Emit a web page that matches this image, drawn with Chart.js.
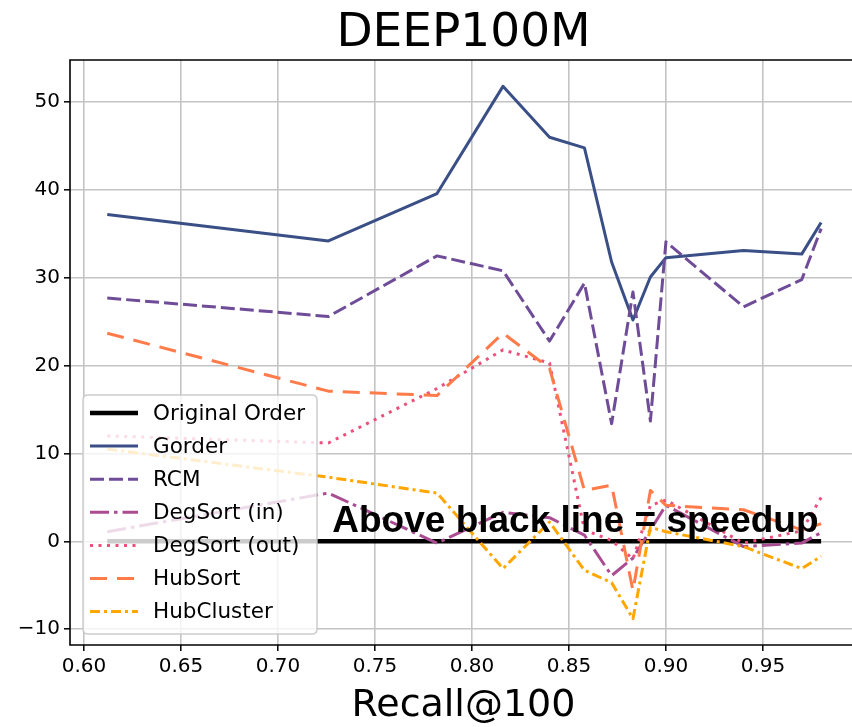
<!DOCTYPE html>
<html>
<head>
<meta charset="utf-8">
<script src="https://cdn.jsdelivr.net/npm/chart.js@4.4.1/dist/chart.umd.min.js"></script>
<style>
  html, body { margin: 0; padding: 0; background: #fff; overflow: hidden; }
  #wrap { position: relative; width: 880px; height: 727px; }
</style>
</head>
<body>
<div id="wrap"><canvas id="chart"></canvas></div>
<script>
// Recall@100 operating points shared by every reordering method
const recall = [0.612, 0.726, 0.782, 0.816, 0.840, 0.858, 0.872, 0.883, 0.892, 0.900, 0.940, 0.970, 0.980];

// Speedup (%) over the original vertex order
const originalOrder = [0, 0, 0, 0, 0, 0, 0, 0, 0, 0, 0, 0, 0];
const gorder     = [37.2, 34.2, 39.6, 51.8, 46.0, 44.8, 31.8, 25.2, 30.1, 32.3, 33.1, 32.7, 36.3];
const rcm        = [27.7, 25.6, 32.5, 30.8, 22.8, 29.4, 13.4, 28.4, 13.7, 34.1, 26.7, 29.8, 35.6];
const degSortIn  = [1.1, 5.5, -0.2, 3.3, 2.7, 0.7, -3.9, -1.9, 1.3, 4.1, -0.6, -0.2, 1.0];
const degSortOut = [12.0, 11.2, 17.4, 21.8, 20.3, 1.3, 0.1, -2.0, 4.1, 4.7, -0.2, 1.2, 5.0];
const hubSort    = [23.7, 17.1, 16.6, 23.7, 19.7, 5.8, 6.4, -5.6, 5.8, 4.1, 3.6, 1.3, 2.0];
const hubCluster = [10.5, 7.3, 5.5, -3.1, 2.2, -3.3, -4.7, -8.8, 1.6, 1.1, -0.6, -3.1, -1.7];

const seriesLabels = ['Original Order', 'Gorder', 'RCM', 'DegSort (in)', 'DegSort (out)', 'HubSort', 'HubCluster'];
const xTicks = [0.60, 0.65, 0.70, 0.75, 0.80, 0.85, 0.90, 0.95];
const yTicks = [-10, 0, 10, 20, 30, 40, 50];

const TICK_FONT = 'DejaVu Sans';

function points(ys) {
  return recall.map((r, i) => ({ x: r, y: ys[i] }));
}

const styles = [
  { color: '#000000', width: 4.5, dash: [] },
  { color: '#3a4f86', width: 3, dash: [] },
  { color: '#6f4c97', width: 3, dash: [14, 5] },
  { color: '#aa4c92', width: 3, dash: [19, 5, 3.5, 5] },
  { color: '#ee4f7c', width: 3, dash: [3, 5.5] },
  { color: '#ff7b4a', width: 3, dash: [17, 10] },
  { color: '#ffa600', width: 3, dash: [10, 4, 3, 4] }
];
const seriesValues = [originalOrder, gorder, rcm, degSortIn, degSortOut, hubSort, hubCluster];

const datasets = seriesValues.map((vals, i) => ({
  label: seriesLabels[i],
  data: points(vals),
  borderColor: styles[i].color,
  backgroundColor: styles[i].color,
  borderWidth: styles[i].width,
  borderDash: styles[i].dash,
  borderCapStyle: 'butt',
  borderJoinStyle: 'round',
  pointRadius: 0,
  pointHoverRadius: 0,
  tension: 0,
  fill: false,
  order: seriesValues.length - i   // later series are painted on top
}));

// Axes frame (left, top, bottom spines) plus the in-plot note
const framePlugin = {
  id: 'frameAndNote',
  afterDatasetsDraw(chart, args, opts) {
    const { ctx, chartArea: a } = chart;
    ctx.save();
    ctx.strokeStyle = '#000';
    ctx.lineWidth = 1.6;
    ctx.setLineDash([]);
    ctx.beginPath();
    ctx.moveTo(a.right, a.top);
    ctx.lineTo(a.left, a.top);
    ctx.lineTo(a.left, a.bottom);
    ctx.lineTo(a.right, a.bottom);
    ctx.stroke();

    const xs = chart.scales.x, ys = chart.scales.y;
    ctx.fillStyle = '#000';
    ctx.font = 'bold 37px "Liberation Sans", Arial, sans-serif';
    ctx.textAlign = 'left';
    ctx.textBaseline = 'alphabetic';
    ctx.fillText(opts.text, xs.getPixelForValue(opts.x), ys.getPixelForValue(opts.y));
    ctx.restore();
  }
};

// Legend drawn inside the lower-left corner of the plot
const insideLegend = {
  id: 'insideLegend',
  afterDatasetsDraw(chart, args, o) {
    const ctx = chart.ctx;
    ctx.save();
    const r = 5;
    const x0 = o.left, y0 = o.top, w = o.width, h = o.height;
    ctx.beginPath();
    ctx.moveTo(x0 + r, y0);
    ctx.lineTo(x0 + w - r, y0);
    ctx.quadraticCurveTo(x0 + w, y0, x0 + w, y0 + r);
    ctx.lineTo(x0 + w, y0 + h - r);
    ctx.quadraticCurveTo(x0 + w, y0 + h, x0 + w - r, y0 + h);
    ctx.lineTo(x0 + r, y0 + h);
    ctx.quadraticCurveTo(x0, y0 + h, x0, y0 + h - r);
    ctx.lineTo(x0, y0 + r);
    ctx.quadraticCurveTo(x0, y0, x0 + r, y0);
    ctx.closePath();
    ctx.fillStyle = 'rgba(255,255,255,0.8)';
    ctx.fill();
    ctx.strokeStyle = 'rgba(200,200,200,0.9)';
    ctx.lineWidth = 1.5;
    ctx.stroke();

    chart.data.datasets.forEach((ds, i) => {
      const y = y0 + o.firstRow + i * o.rowGap;
      ctx.beginPath();
      ctx.setLineDash(ds.borderDash || []);
      ctx.lineCap = 'butt';
      ctx.lineWidth = ds.borderWidth;
      ctx.strokeStyle = ds.borderColor;
      ctx.moveTo(x0 + o.sampleStart, y);
      ctx.lineTo(x0 + o.sampleStart + o.sampleLen, y);
      ctx.stroke();
      ctx.setLineDash([]);
      ctx.fillStyle = '#000';
      ctx.font = o.fontSize + 'px "' + TICK_FONT + '"';
      ctx.textAlign = 'left';
      ctx.textBaseline = 'middle';
      ctx.fillText(ds.label, x0 + o.textStart, y + 1);
    });
    ctx.restore();
  }
};

const minus = v => (v < 0 ? '\u2212' + Math.abs(v) : String(v));

new Chart(document.getElementById('chart'), {
  type: 'line',
  data: { datasets },
  plugins: [framePlugin, insideLegend],
  options: {
    responsive: true,
    maintainAspectRatio: false,
    animation: false,
    events: [],
    layout: { padding: { left: 0, right: 23, top: 0, bottom: 0 } },
    plugins: {
      legend: { display: false },
      tooltip: { enabled: false },
      title: {
        display: true,
        text: 'DEEP100M',
        fullSize: false,
        color: '#000',
        font: { family: TICK_FONT, size: 47, weight: 'normal', lineHeight: 1 },
        padding: { top: 10, bottom: 3 }
      },
      frameAndNote: { text: 'Above black line = speedup', x: 0.728, y: 1.1 },
      insideLegend: {
        left: 83, top: 395, width: 234, height: 239,
        firstRow: 18, rowGap: 33.1,
        sampleStart: 7, sampleLen: 48, textStart: 70, fontSize: 21.5
      }
    },
    scales: {
      x: {
        type: 'linear',
        min: 0.5928,
        max: 0.9985,
        afterFit(scale) { scale.height = 82; },
        afterBuildTicks(scale) { scale.ticks = xTicks.map(v => ({ value: v })); },
        ticks: {
          color: '#000',
          font: { family: TICK_FONT, size: 20 },
          padding: 4,
          maxRotation: 0,
          autoSkip: false,
          callback: v => Number(v).toFixed(2)
        },
        grid: {
          color: '#c4c4c4',
          lineWidth: 1.6,
          tickColor: '#000',
          tickLength: 6,
          tickWidth: 1.5
        },
        border: { display: false },
        title: {
          display: true,
          text: 'Recall@100',
          color: '#000',
          font: { family: TICK_FONT, size: 38, lineHeight: 1 },
          padding: { top: 0, bottom: 2 }
        }
      },
      y: {
        type: 'linear',
        min: -11.8,
        max: 54.8,
        afterFit(scale) { scale.width = 70; },
        afterBuildTicks(scale) { scale.ticks = yTicks.map(v => ({ value: v })); },
        ticks: {
          color: '#000',
          font: { family: TICK_FONT, size: 20 },
          padding: 4,
          callback: v => minus(v)
        },
        grid: {
          color: '#c4c4c4',
          lineWidth: 1.6,
          tickColor: '#000',
          tickLength: 6,
          tickWidth: 1.5
        },
        border: { display: false }
      }
    }
  }
});
</script>
</body>
</html>
